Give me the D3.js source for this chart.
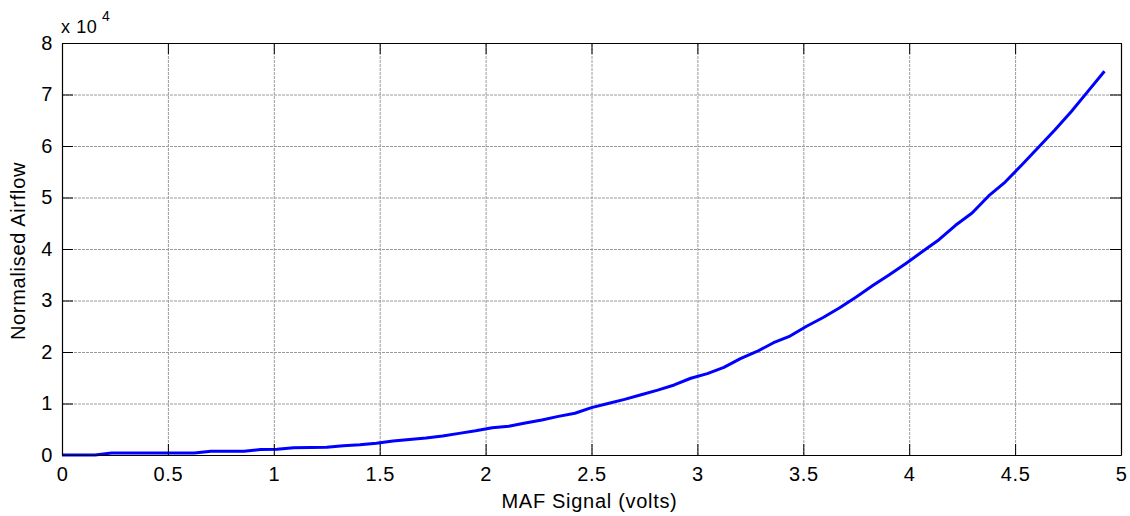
<!DOCTYPE html>
<html>
<head>
<meta charset="utf-8">
<script src="https://cdn.jsdelivr.net/npm/d3@7"></script>
<style>
  html, body { margin: 0; padding: 0; background: #fff; }
  svg { display: block; font-family: "Liberation Sans", Arial, Helvetica, sans-serif; }
</style>
</head>
<body>
<svg id="chart" width="1130" height="516"></svg>
<script>
// ---- data ----
const voltages = [
  0, 0.0781, 0.1563, 0.2344, 0.3125, 0.3906, 0.4688, 0.5469, 0.625, 0.7031,
  0.7813, 0.8594, 0.9375, 1.0156, 1.0938, 1.1719, 1.25, 1.3281, 1.4063, 1.4844,
  1.5625, 1.6406, 1.7188, 1.7969, 1.875, 1.9531, 2.0313, 2.1094, 2.1875, 2.2656,
  2.3438, 2.4219, 2.5, 2.5781, 2.6563, 2.7344, 2.8125, 2.8906, 2.9688, 3.0469,
  3.125, 3.2031, 3.2813, 3.3594, 3.4375, 3.5156, 3.5938, 3.6719, 3.75, 3.8281,
  3.9063, 3.9844, 4.0625, 4.1406, 4.2188, 4.2969, 4.375, 4.4531, 4.5313, 4.6094,
  4.6875, 4.7656, 4.8438, 4.9219
];
const airflow = [
  0, 0, 0, 400, 400, 400, 400, 400, 400, 750,
  750, 750, 1050, 1100, 1400, 1450, 1500, 1800, 2000, 2300,
  2700, 3000, 3300, 3700, 4200, 4700, 5300, 5600, 6200, 6800,
  7500, 8100, 9200, 10000, 10800, 11700, 12600, 13600, 14900, 15800,
  17000, 18700, 20100, 21800, 23100, 25000, 26700, 28600, 30700, 32900,
  35000, 37200, 39500, 41800, 44600, 47000, 50300, 53000, 56300, 59700,
  63100, 66700, 70600, 74500
];
const xTicks = [0, 0.5, 1, 1.5, 2, 2.5, 3, 3.5, 4, 4.5, 5];
const xTickLabels = ["0", "0.5", "1", "1.5", "2", "2.5", "3", "3.5", "4", "4.5", "5"];
const yTicks = [0, 10000, 20000, 30000, 40000, 50000, 60000, 70000, 80000];
const yTickLabels = ["0", "1", "2", "3", "4", "5", "6", "7", "8"];
const xLabel = "MAF Signal (volts)";
const yLabel = "Normalised Airflow";

// ---- layout ----
const L = 62, R = 1121, T = 43, B = 455;
const svg = d3.select("#chart");
svg.append("rect").attr("width", 1130).attr("height", 516).attr("fill", "#fff");

const x = d3.scaleLinear().domain([0, 5]).range([L, R]);
const y = d3.scaleLinear().domain([0, 80000]).range([B, T]);

// grid
const gx = svg.append("g").attr("transform", `translate(0,${B})`)
  .call(d3.axisBottom(x).tickValues(xTicks).tickSize(-(B - T)).tickFormat(""));
const gy = svg.append("g").attr("transform", `translate(${L},0)`)
  .call(d3.axisLeft(y).tickValues(yTicks).tickSize(-(R - L)).tickFormat(""));
[gx, gy].forEach(g => {
  g.select(".domain").remove();
  g.selectAll("line").attr("stroke", "#9a9a9a").attr("stroke-dasharray", "3,1").attr("stroke-width", 1);
});

// line
const line = d3.line().x((d, i) => x(voltages[i])).y(d => y(d));
svg.append("path").datum(airflow)
  .attr("d", line)
  .attr("fill", "none")
  .attr("stroke", "#0000ff")
  .attr("stroke-width", 3)
  .attr("stroke-linejoin", "round");

// axes with inward ticks
const tick = 11;
const axB = svg.append("g").attr("transform", `translate(0,${B})`)
  .call(d3.axisBottom(x).tickValues(xTicks).tickSizeInner(-tick).tickSizeOuter(0).tickPadding(12)
    .tickFormat((d, i) => xTickLabels[i]));
const axL = svg.append("g").attr("transform", `translate(${L},0)`)
  .call(d3.axisLeft(y).tickValues(yTicks).tickSizeInner(-tick).tickSizeOuter(0).tickPadding(9)
    .tickFormat((d, i) => yTickLabels[i]));
const axT = svg.append("g").attr("transform", `translate(0,${T})`)
  .call(d3.axisTop(x).tickValues(xTicks).tickSizeInner(-tick).tickSizeOuter(0).tickFormat(""));
const axR = svg.append("g").attr("transform", `translate(${R},0)`)
  .call(d3.axisRight(y).tickValues(yTicks).tickSizeInner(-tick).tickSizeOuter(0).tickFormat(""));
[axB, axL, axT, axR].forEach(g => {
  g.selectAll("path.domain").attr("stroke", "#000").attr("stroke-width", 1.2);
  g.selectAll("line").attr("stroke", "#000");
  g.selectAll("text")
    .attr("fill", "#000")
    .style("font-size", "20px")
    .style("letter-spacing", "0.6px")
    .style("font-family", "'Liberation Sans', Arial, sans-serif");
});

// axis labels
svg.append("text")
  .attr("x", (L + R) / 2 - 2).attr("y", 508)
  .attr("text-anchor", "middle")
  .style("font-size", "20px").style("letter-spacing", "0.7px")
  .text(xLabel);
svg.append("text")
  .attr("transform", `translate(25,${(T + B) / 2 + 2}) rotate(-90)`)
  .attr("text-anchor", "middle")
  .style("font-size", "20px").style("letter-spacing", "0.7px")
  .text(yLabel);

// exponent label
svg.append("text").attr("x", 61).attr("y", 33)
  .style("font-size", "18px").style("letter-spacing", "0.6px")
  .text("x 10");
svg.append("text").attr("x", 102).attr("y", 20.5)
  .style("font-size", "14px")
  .text("4");
</script>
</body>
</html>
